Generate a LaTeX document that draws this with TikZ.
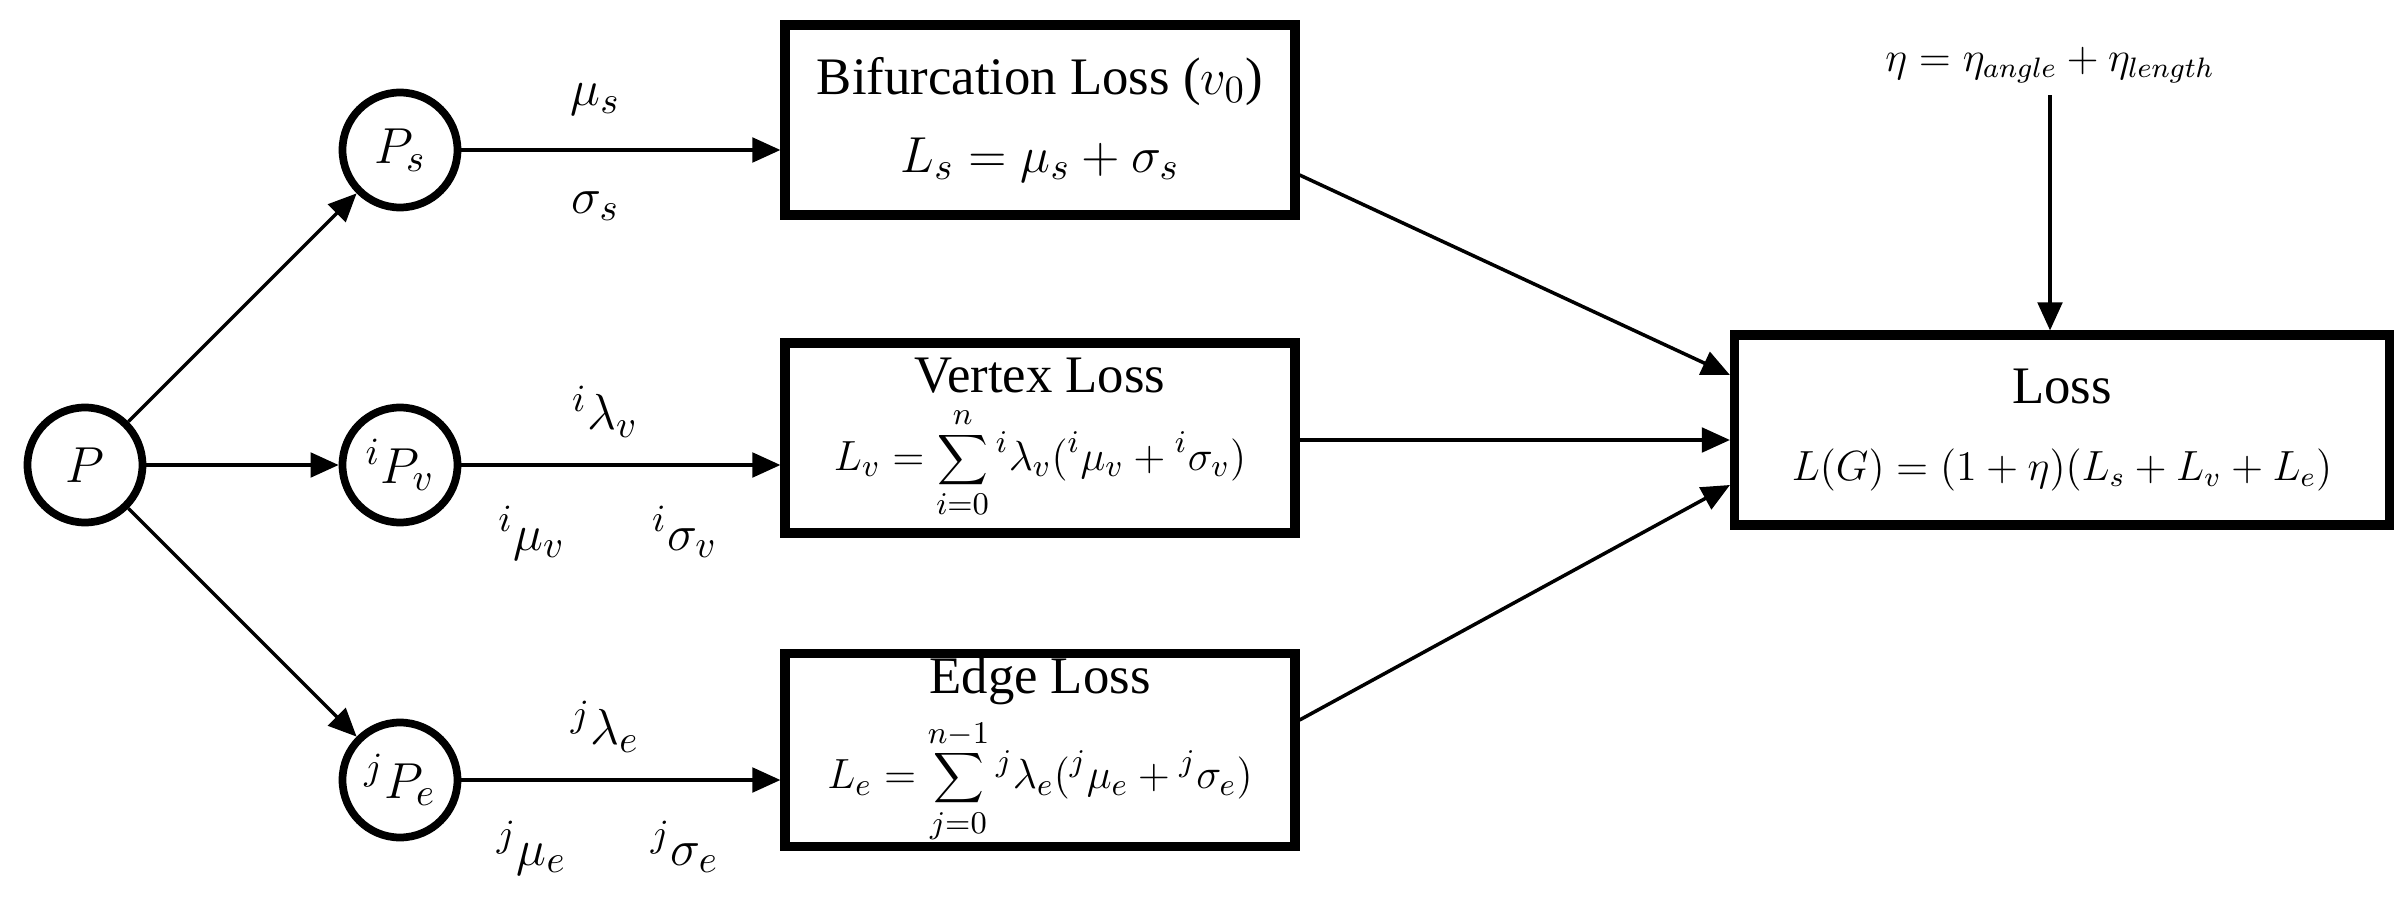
\documentclass[tikz,border=0pt]{standalone}
\usepackage{fontspec}
\setmainfont{Liberation Serif}
\usetikzlibrary{arrows.meta}

\begin{document}
\begin{tikzpicture}[font=\fontsize{15}{18}\selectfont,
    circ/.style={circle,draw,line width=2.2pt,minimum size=1.15cm,inner sep=0pt},
    loss/.style={draw,line width=2.6pt,minimum width=5.1cm,minimum height=1.9cm,align=center,inner sep=1pt},
    arr/.style={-{Triangle[length=8pt,width=7pt]},line width=1pt}]
    \useasboundingbox (0,0) rectangle (24.02,9);
    \node[circ] (P) at (0.85,4.35) {$P$};
    \node[circ] (Ps) at (4.0,7.5) {$P_s$};
    \node[circ] (Pv) at (4.0,4.35) {${}^iP_v$};
    \node[circ] (Pe) at (4.0,1.2) {${}^jP_e$};
    \node[loss] (Bs) at (10.4,7.8) {Bifurcation Loss ($v_0$)\\[4pt] $L_s=\mu_s+\sigma_s$};
    \node[loss] (Bv) at (10.4,4.62) {Vertex Loss\\[3pt] \fontsize{13}{15}\selectfont $\displaystyle L_v=\sum_{i=0}^{n}{}^i\lambda_v({}^i\mu_v+{}^i\sigma_v)$};
    \node[loss] (Be) at (10.4,1.5) {Edge Loss\\[3pt] \fontsize{13}{15}\selectfont $\displaystyle L_e=\sum_{j=0}^{n-1}{}^j\lambda_e({}^j\mu_e+{}^j\sigma_e)$};
    \node[loss,minimum width=6.55cm] (L) at (20.62,4.7) {Loss\\[4pt] \fontsize{12}{15}\selectfont $L(G)=(1+\eta)(L_s+L_v+L_e)$};
    \node (eta) at (20.5,8.35) {\fontsize{12}{15}\selectfont $\eta=\eta_{angle}+\eta_{length}$};
    % from P to the three parts
    \draw[arr] (P) -- (Ps);
    \draw[arr] (P) -- (Pv);
    \draw[arr] (P) -- (Pe);
    \draw[arr] (Ps) -- (Bs.west |- Ps) node[pos=0.42,above=6pt]{$\mu_s$} node[pos=0.42,below=8pt]{$\sigma_s$};
    \draw[arr] (Pv) -- (Bv.west |- Pv) node[pos=0.45,above=4pt]{${}^i\lambda_v$}
        node[pos=0.22,below=8pt]{${}^i\mu_v$} node[pos=0.7,below=8pt]{${}^i\sigma_v$};
    \draw[arr] (Pe) -- (Be.west |- Pe) node[pos=0.45,above=4pt]{${}^j\lambda_e$}
        node[pos=0.22,below=8pt]{${}^j\mu_e$} node[pos=0.7,below=8pt]{${}^j\sigma_e$};
    % to the total loss
    \draw[arr] ([yshift=-0.55cm]Bs.east) -- ([yshift=0.55cm]L.west);
    \draw[arr] (Bv.east |- 0,4.6) -- (L.west |- 0,4.6);
    \draw[arr] ([yshift=0.3cm]Be.east) -- ([yshift=-0.55cm]L.west);
    \draw[arr] (eta) -- (eta |- L.north);
\end{tikzpicture}
\end{document}
